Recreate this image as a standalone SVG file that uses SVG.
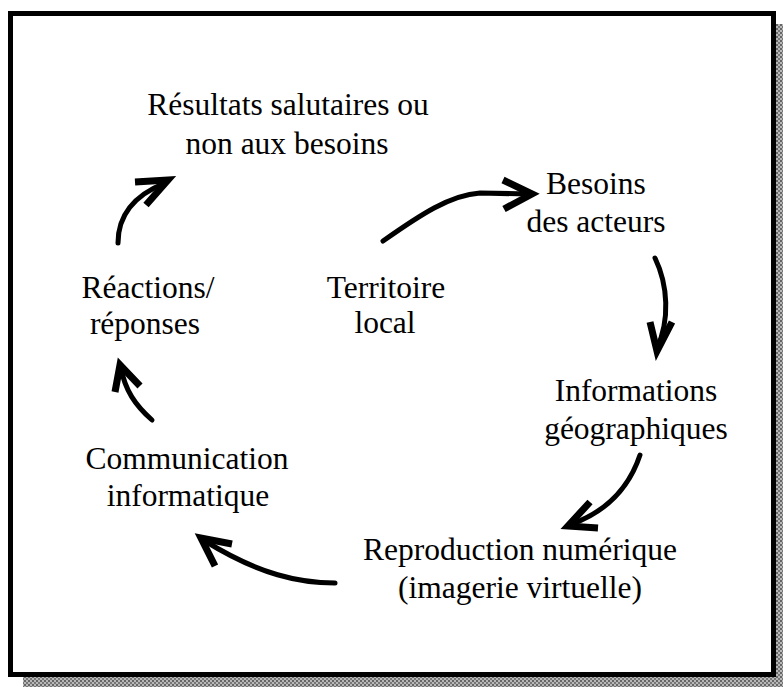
<svg xmlns="http://www.w3.org/2000/svg" width="783" height="687" viewBox="0 0 783 687">
  <style>
    .lbl { font-family: "Liberation Serif", "Times New Roman", serif; font-size: 31.5px; fill: #000; text-anchor: middle; }
    .shaft { fill: none; stroke: #000; stroke-width: 5; stroke-linecap: round; }
    .head { fill: none; stroke: #000; stroke-width: 7; stroke-linejoin: miter; stroke-miterlimit: 10; stroke-linecap: butt; }
  </style>
  <defs>
    <pattern id="dither" width="4" height="4" patternUnits="userSpaceOnUse">
      <rect width="4" height="4" fill="#b8b8b8"/>
      <rect width="2" height="2" fill="#666"/>
      <rect x="2" y="2" width="2" height="2" fill="#777"/>
    </pattern>
  </defs>

  <rect width="783" height="687" fill="#fff"/>

  <!-- drop shadow -->
  <g id="shadow">
    <rect x="776" y="24" width="7" height="663" fill="url(#dither)"/>
    <rect x="23" y="677" width="760" height="10" fill="url(#dither)"/>
  </g>

  <!-- frame -->
  <rect id="frame" x="10.5" y="13.5" width="763" height="661" fill="#fff" stroke="#000" stroke-width="5"/>

  <g id="n-resultats">
    <text class="lbl" x="288" y="115">Résultats salutaires ou</text>
    <text class="lbl" x="287" y="154">non aux besoins</text>
  </g>
  <g id="n-besoins">
    <text class="lbl" x="596" y="194">Besoins</text>
    <text class="lbl" x="596" y="232">des acteurs</text>
  </g>
  <g id="n-territoire">
    <text class="lbl" x="386" y="298">Territoire</text>
    <text class="lbl" x="385" y="333">local</text>
  </g>
  <g id="n-reactions">
    <text class="lbl" x="148" y="298">Réactions/</text>
    <text class="lbl" x="145" y="334">réponses</text>
  </g>
  <g id="n-informations">
    <text class="lbl" x="636" y="401">Informations</text>
    <text class="lbl" x="636" y="439">géographiques</text>
  </g>
  <g id="n-communication">
    <text class="lbl" x="187" y="469">Communication</text>
    <text class="lbl" x="188" y="506">informatique</text>
  </g>
  <g id="n-reproduction">
    <text class="lbl" x="520" y="560">Reproduction numérique</text>
    <text class="lbl" x="520" y="598">(imagerie virtuelle)</text>
  </g>

  <g id="connectors">
    <!-- reactions -> resultats -->
    <path class="shaft" d="M118,243 C118,215 135,195 165,183"/>
    <polyline class="head" points="135,182 168,180 146,205"/>
    <!-- territoire -> besoins -->
    <path class="shaft" d="M383,241 C420,215 450,195 480,193 L528,194"/>
    <polyline class="head" points="503,180 532,194 504,209"/>
    <!-- besoins -> informations -->
    <path class="shaft" d="M655,258 C668,285 670,320 657,348"/>
    <polyline class="head" points="650,322 657,351 672,322"/>
    <!-- informations -> reproduction -->
    <path class="shaft" d="M640,455 C630,485 610,510 572,524"/>
    <polyline class="head" points="590,502 568,526 598,528"/>
    <!-- reproduction -> communication -->
    <path class="shaft" d="M335,583 C300,583 260,575 205,541"/>
    <polyline class="head" points="232,544 201,538 215,566"/>
    <!-- communication -> reactions -->
    <path class="shaft" d="M152,420 C135,405 125,390 121,368"/>
    <polyline class="head" points="115,392 120,365 140,386"/>
  </g>
</svg>
